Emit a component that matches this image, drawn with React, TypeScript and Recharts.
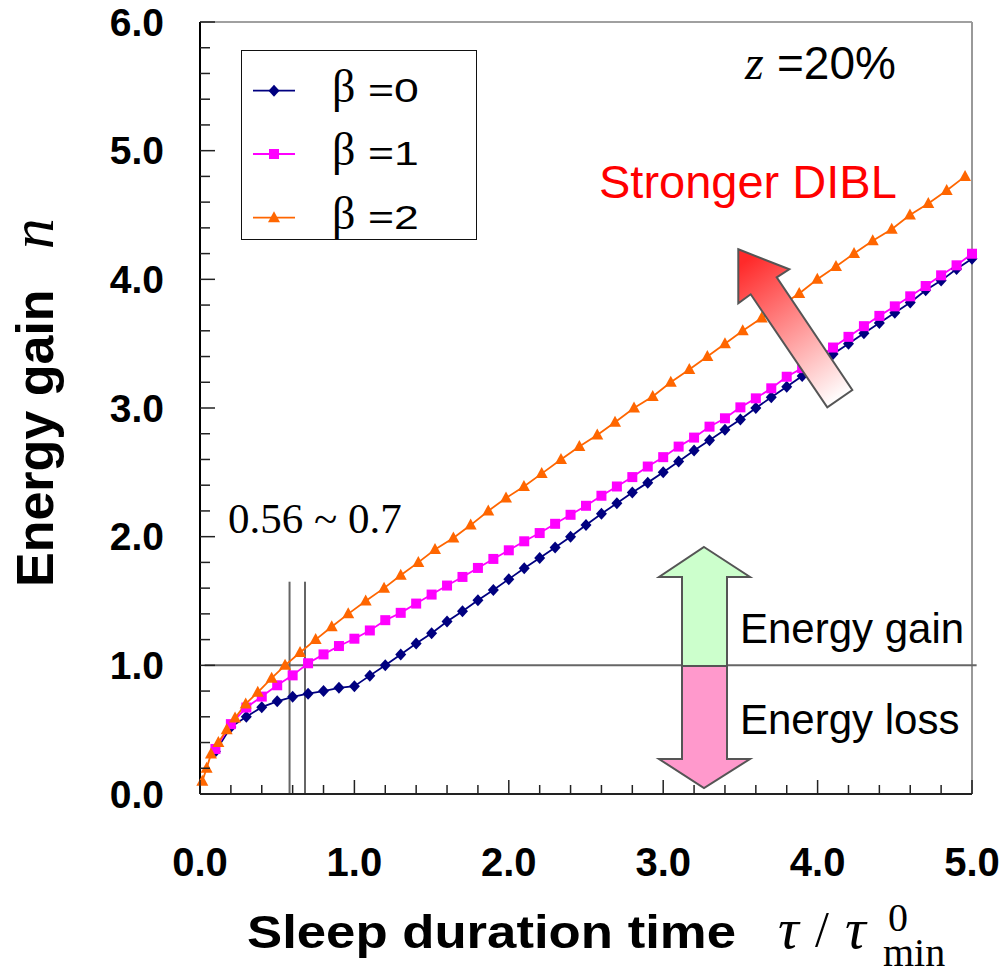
import React from "react";
import { LineChart, Line, XAxis, YAxis, ReferenceLine, Legend } from "recharts";

const SANS = '"Liberation Sans", Arial, sans-serif';
const SERIF = '"Liberation Serif", "Times New Roman", serif';

// beta = 0 and beta = 1 are sampled every 0.1 of tau / tau_min
const tauSteps = [
  0.1, 0.2, 0.3, 0.4, 0.5, 0.6, 0.7, 0.8, 0.9, 1.0,
  1.1, 1.2, 1.3, 1.4, 1.5, 1.6, 1.7, 1.8, 1.9, 2.0,
  2.1, 2.2, 2.3, 2.4, 2.5, 2.6, 2.7, 2.8, 2.9, 3.0,
  3.1, 3.2, 3.3, 3.4, 3.5, 3.6, 3.7, 3.8, 3.9, 4.0,
  4.1, 4.2, 4.3, 4.4, 4.5, 4.6, 4.7, 4.8, 4.9, 5.0,
];
const gainBeta0 = [
  0.33, 0.52, 0.6, 0.675, 0.72, 0.755, 0.78, 0.8, 0.825, 0.838,
  0.92, 1.0, 1.085, 1.17, 1.25, 1.34, 1.42, 1.505, 1.585, 1.67,
  1.755, 1.835, 1.915, 2.0, 2.09, 2.178, 2.26, 2.343, 2.42, 2.5,
  2.584, 2.67, 2.75, 2.83, 2.91, 3.0, 3.083, 3.165, 3.248, 3.33,
  3.42, 3.5, 3.58, 3.66, 3.74, 3.82, 3.915, 3.99, 4.08, 4.16,
];
const gainBeta1 = [
  0.35, 0.543, 0.672, 0.757, 0.845, 0.922, 1.016, 1.085, 1.15, 1.207,
  1.271, 1.351, 1.408, 1.48, 1.55, 1.62, 1.687, 1.757, 1.827, 1.894,
  1.964, 2.028, 2.1, 2.17, 2.24, 2.318, 2.39, 2.463, 2.545, 2.618,
  2.7, 2.77, 2.855, 2.92, 3.005, 3.075, 3.153, 3.243, 3.31, 3.39,
  3.47, 3.553, 3.636, 3.716, 3.79, 3.868, 3.948, 4.031, 4.109, 4.199,
];
// beta = 2 points sit on steps of n instead
const tauBeta2 = [
  0.015, 0.043, 0.071, 0.119, 0.173, 0.227, 0.296, 0.374, 0.464, 0.551,
  0.648, 0.749, 0.853, 0.96, 1.073, 1.192, 1.3, 1.414, 1.522, 1.641,
  1.753, 1.867, 1.982, 2.098, 2.213, 2.338, 2.457, 2.573, 2.688, 2.811,
  2.932, 3.049, 3.169, 3.286, 3.4, 3.515, 3.638, 3.756, 3.881, 3.998,
  4.119, 4.236, 4.357, 4.48, 4.598, 4.717, 4.836, 4.955,
];
const gainBeta2 = [
  0.1, 0.2, 0.31, 0.4, 0.5, 0.59, 0.7, 0.79, 0.9, 1.0,
  1.1, 1.2, 1.3, 1.4, 1.5, 1.6, 1.7, 1.8, 1.9, 1.99,
  2.09, 2.2, 2.3, 2.39, 2.49, 2.6, 2.7, 2.79, 2.89, 3.0,
  3.09, 3.2, 3.3, 3.4, 3.5, 3.6, 3.7, 3.79, 3.89, 4.0,
  4.1, 4.2, 4.3, 4.39, 4.5, 4.59, 4.69, 4.8,
];

const xTicks = [
  0, 0.2, 0.4, 0.6, 0.8, 1, 1.2, 1.4, 1.6, 1.8, 2, 2.2, 2.4, 2.6, 2.8,
  3, 3.2, 3.4, 3.6, 3.8, 4, 4.2, 4.4, 4.6, 4.8, 5,
];
const yTicks = [
  0, 0.2, 0.4, 0.6, 0.8, 1, 1.2, 1.4, 1.6, 1.8, 2, 2.2, 2.4, 2.6, 2.8,
  3, 3.2, 3.4, 3.6, 3.8, 4, 4.2, 4.4, 4.6, 4.8, 5, 5.2, 5.4, 5.6, 5.8, 6,
];

// the 0.56 ~ 0.7 markers and the n = 1 break-even line
const rangeMarks = [0.58, 0.68];
const rangeTop = 1.65;
const breakEven = 1;

const series = [
  { key: "b0", beta: "0", color: "#000080", shape: "diamond", data: tauSteps.map((x, i) => ({ x, y: gainBeta0[i] })) },
  { key: "b1", beta: "1", color: "#FF00FF", shape: "square", data: tauSteps.map((x, i) => ({ x, y: gainBeta1[i] })) },
  { key: "b2", beta: "2", color: "#FF6600", shape: "triangle", data: tauBeta2.map((x, i) => ({ x, y: gainBeta2[i] })) },
];

const isMajor = (v: number) => Math.abs(v - Math.round(v)) < 1e-6;

function Marker({ shape, cx, cy, color }: any) {
  if (cx == null || cy == null) return null;
  if (shape === "diamond")
    return <path d={`M${cx},${cy - 6}L${cx + 5.5},${cy}L${cx},${cy + 6}L${cx - 5.5},${cy}Z`} fill={color} />;
  if (shape === "square")
    return <rect x={cx - 5} y={cy - 5} width={10} height={10} fill={color} />;
  return <path d={`M${cx},${cy - 6.5}L${cx + 6},${cy + 4.5}L${cx - 6},${cy + 4.5}Z`} fill={color} />;
}

function YTick(props: any) {
  const { x, y, payload } = props;
  const v = payload.value;
  const major = isMajor(v);
  return (
    <g>
      <line x1={x} x2={x + (major ? 15 : 10)} y1={y} y2={y} stroke="#222" strokeWidth={1.5} />
      {major && (
        <text x={x - 36} y={y} textAnchor="end" dominantBaseline="central" fontFamily={SANS} fontWeight="bold" fontSize={39} fill="#000">
          {v.toFixed(1)}
        </text>
      )}
    </g>
  );
}

function XTick(props: any) {
  const { x, y, payload } = props;
  const v = payload.value;
  const major = isMajor(v);
  return (
    <g>
      <line x1={x} x2={x} y1={y} y2={y - (major ? 14 : 9)} stroke="#222" strokeWidth={1.5} />
      {major && (
        <text x={x} y={y + 68} textAnchor="middle" dominantBaseline="central" fontFamily={SANS} fontWeight="bold" fontSize={40} fill="#000">
          {v.toFixed(1)}
        </text>
      )}
    </g>
  );
}

function XTitle({ viewBox }: any) {
  const x = viewBox?.x ?? 200;
  const y = viewBox?.y ?? 794;
  return (
    <g>
      <text x={x + 47} y={y + 154} fontFamily={SANS} fontWeight="bold" fontSize={46} textLength={489} lengthAdjust="spacingAndGlyphs" fill="#000">
        Sleep duration time
      </text>
      <text x={x + 578} y={y + 154} fontFamily={SERIF} fontStyle="italic" fontSize={58} fill="#000">τ</text>
      <text x={x + 615} y={y + 152} fontFamily={SERIF} fontSize={50} fill="#000">/</text>
      <text x={x + 645} y={y + 154} fontFamily={SERIF} fontStyle="italic" fontSize={58} fill="#000">τ</text>
      <text x={x + 688} y={y + 137} fontFamily={SERIF} fontSize={40} fill="#000">0</text>
      <text x={x + 683} y={y + 172} fontFamily={SERIF} fontSize={40} fill="#000">min</text>
    </g>
  );
}

function YTitle({ viewBox }: any) {
  const bx = (viewBox?.x ?? 120) - 67;
  const by = (viewBox?.y ?? 22) + 565;
  return (
    <text transform={`rotate(-90, ${bx}, ${by})`} x={bx} y={by} fontFamily={SANS} fontWeight="bold" fontSize={52} fill="#000">
      Energy gain
      <tspan dx={40} fontFamily={SERIF} fontStyle="italic" fontWeight="normal" fontSize={62}>n</tspan>
    </text>
  );
}

function LegendBox() {
  const rows = [40.7, 104, 167.7];
  return (
    <div style={{ width: 236, height: 190, boxSizing: "border-box", border: "1.5px solid #111", background: "#fff", position: "relative" }}>
      <svg width={236} height={190} style={{ position: "absolute", left: -1.5, top: -1.5, overflow: "visible" }}>
        {series.map((s, i) => (
          <g key={s.key}>
            <line x1={12} x2={54} y1={rows[i]} y2={rows[i]} stroke={s.color} strokeWidth={1.8} />
            <Marker shape={s.shape} cx={33} cy={rows[i]} color={s.color} />
            <text x={91} y={rows[i] + 11} fontFamily={SERIF} fontSize={46} fill="#000">β</text>
            <text transform={`translate(127, ${rows[i] + 11}) scale(1.35, 1)`} fontFamily={SANS} fontSize={33} fill="#000">
              ={s.beta}
            </text>
          </g>
        ))}
      </svg>
    </div>
  );
}

function Annotations() {
  return (
    <svg width={1008} height={971} style={{ position: "absolute", left: 0, top: 0, pointerEvents: "none" }}>
      <defs>
        <linearGradient id="dibl" gradientUnits="userSpaceOnUse" x1={744} y1={262} x2={840} y2={399}>
          <stop offset="0" stopColor="#FF2a2a" />
          <stop offset="1" stopColor="#FFFFFF" />
        </linearGradient>
      </defs>
      <text x={745} y={79} fontFamily={SERIF} fontStyle="italic" fontSize={48} fill="#000">z</text>
      <text x={777} y={79} fontFamily={SANS} fontSize={46} fill="#000">=20%</text>
      <text x={599} y={198} fontFamily={SANS} fontSize={47} fill="#FF0000">Stronger DIBL</text>
      <polygon
        points="738.3,249.3 789.3,269.3 776.7,277.3 852.3,390 827.3,407.3 750.7,294.3 738.3,303.3"
        fill="url(#dibl)"
        stroke="#555"
        strokeWidth={2}
      />
      <text x={228} y={533} fontFamily={SERIF} fontSize={43} fill="#000">0.56 ~ 0.7</text>
      <polygon points="704,547 750,577 727,577 727,666 682,666 682,577 659,577" fill="#CCFFCC" stroke="#555" strokeWidth={2} />
      <polygon points="682,666 727,666 727,759 750,759 704,788 659,759 682,759" fill="#FF99CC" stroke="#555" strokeWidth={2} />
      <text x={740} y={643} fontFamily={SANS} fontSize={42} fill="#000">Energy gain</text>
      <text x={740} y={734} fontFamily={SANS} fontSize={42} fill="#000">Energy loss</text>
    </svg>
  );
}

export default function App() {
  return (
    <div style={{ position: "absolute", left: 0, top: 0, width: 1008, height: 971, background: "#fff" }}>
      <LineChart width={1008} height={971} margin={{ top: 22, right: 36, bottom: 20, left: 120 }}>
        <XAxis
          type="number"
          dataKey="x"
          domain={[0, 5]}
          ticks={xTicks}
          interval={0}
          tickSize={0}
          tickMargin={0}
          tick={<XTick />}
          tickLine={false}
          axisLine={{ stroke: "#222", strokeWidth: 2 }}
          height={157}
          label={<XTitle />}
        />
        <YAxis
          type="number"
          dataKey="y"
          domain={[0, 6]}
          ticks={yTicks}
          interval={0}
          tickSize={0}
          tickMargin={0}
          tick={<YTick />}
          tickLine={false}
          axisLine={{ stroke: "#000", strokeWidth: 2 }}
          width={80}
          label={<YTitle />}
        />
        <ReferenceLine y={6} stroke="#a0a0a0" strokeWidth={2} />
        <ReferenceLine x={5} stroke="#999" strokeWidth={2} />
        <ReferenceLine
          segment={[{ x: 0.03, y: breakEven }, { x: 5.03, y: breakEven }]}
          stroke="#666"
          strokeWidth={2}
          ifOverflow="visible"
        />
        {rangeMarks.map((m) => (
          <ReferenceLine key={m} segment={[{ x: m, y: 0 }, { x: m, y: rangeTop }]} stroke="#666" strokeWidth={2} />
        ))}
        <Legend layout="vertical" align="center" verticalAlign="middle" wrapperStyle={{ left: 241, top: 50, width: 236, height: 190 }} content={() => <LegendBox />} />
        {series.map((s) => (
          <Line
            key={s.key}
            data={s.data}
            dataKey="y"
            name={`β =${s.beta}`}
            type="linear"
            stroke={s.color}
            strokeWidth={1.8}
            isAnimationActive={false}
            dot={(p: any) => <Marker key={`${s.key}-${p.index}`} shape={s.shape} cx={p.cx} cy={p.cy} color={s.color} />}
            activeDot={false}
          />
        ))}
      </LineChart>
      <Annotations />
    </div>
  );
}
